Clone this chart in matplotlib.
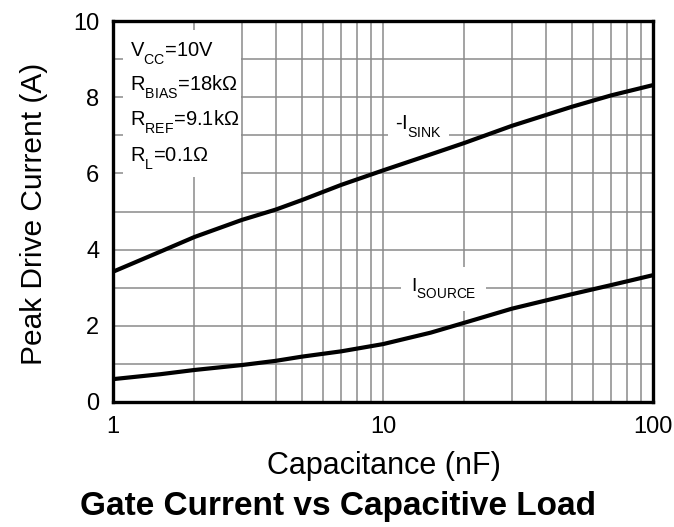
import matplotlib
matplotlib.use("Agg")
import matplotlib.pyplot as plt
from matplotlib.patches import Rectangle
import matplotlib._mathtext as _mt

plt.rcParams['font.family'] = ['Liberation Sans', 'DejaVu Sans']
plt.rcParams['mathtext.fontset'] = 'custom'
plt.rcParams['mathtext.rm'] = 'Liberation Sans'
plt.rcParams['mathtext.it'] = 'Liberation Sans'
_mt.FontConstantsBase.sub1 = 0.75

# Data
cap_nf = [1, 1.5, 2, 3, 4, 5, 7, 10, 15, 20, 30, 50, 70, 100]
i_sink = [3.42, 3.95, 4.33, 4.78, 5.05, 5.3, 5.7, 6.08, 6.5, 6.8, 7.25, 7.75, 8.05, 8.32]
i_source = [0.6, 0.73, 0.84, 0.97, 1.08, 1.19, 1.33, 1.52, 1.82, 2.08, 2.45, 2.83, 3.07, 3.33]
x_ticks = [1, 10, 100]
x_ticklabels = ['1', '10', '100']
y_ticks = [0, 2, 4, 6, 8, 10]
cond_lines = [r'V$_\mathregular{CC}$=10V',
              r'R$_\mathregular{BIAS}$=18k$\Omega$',
              r'R$_\mathregular{REF}$=9.1k$\Omega$',
              r'R$_\mathregular{L}$=0.1$\Omega$']

fig = plt.figure(figsize=(6.74, 5.27), dpi=100)
ax = fig.add_axes([0.1677, 0.2372, 0.8013, 0.7228])

ax.set_xscale('log')
ax.set_xlim(1, 100)
ax.set_ylim(0, 10)

# grid
ax.set_yticks(y_ticks)
ax.set_yticks(range(0, 11), minor=True)
ax.set_xticks(x_ticks)
ax.set_xticklabels(x_ticklabels)
ax.grid(True, which='both', color='#8a8a8a', linewidth=1.1)
ax.set_axisbelow(True)
ax.tick_params(which='both', length=0, labelsize=17, pad=10)
ax.tick_params(axis='x', which='minor', labelbottom=False)
for s in ax.spines.values():
    s.set_linewidth(2.4)
    s.set_color('black')

# condition box covering grid
ax.add_patch(Rectangle((0.0185, 0.59), 0.218, 0.386, transform=ax.transAxes,
                       facecolor='white', edgecolor='none', zorder=1.5))
ys = [0.9055, 0.8163, 0.7244, 0.630]
for t, yy in zip(cond_lines, ys):
    ax.text(0.031, yy, t, transform=ax.transAxes, fontsize=14.5,
            va='baseline', ha='left', zorder=3)

ax.plot(cap_nf, i_sink, color='black', linewidth=3.0, zorder=4, solid_capstyle='butt')
ax.plot(cap_nf, i_source, color='black', linewidth=3.0, zorder=4, solid_capstyle='butt')

ax.text(0.522, 0.714, r'-I$_\mathregular{SINK}$', transform=ax.transAxes, fontsize=14.5,
        ha='left', va='baseline', zorder=3,
        bbox=dict(facecolor='white', edgecolor='none', pad=5))
ax.text(0.551, 0.289, r'I$_\mathregular{SOURCE}$', transform=ax.transAxes, fontsize=14,
        ha='left', va='baseline', zorder=3,
        bbox=dict(facecolor='white', edgecolor='none', pad=7))

fig.text(0.0504, 0.594, 'Peak Drive Current (A)', fontsize=21.5, rotation=90,
         ha='center', va='center')
fig.text(0.569, 0.1006, 'Capacitance (nF)', fontsize=22, ha='center', va='baseline')
fig.text(0.502, 0.0228, 'Gate Current vs Capacitive Load', fontsize=24,
         fontweight='bold', ha='center', va='baseline')

fig.savefig('out.png', dpi=100)
